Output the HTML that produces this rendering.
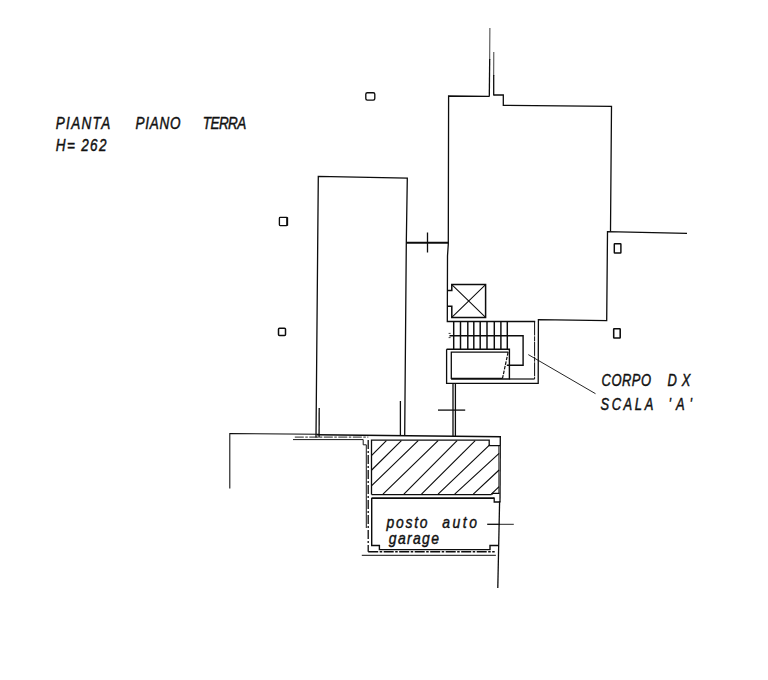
<!DOCTYPE html>
<html><head><meta charset="utf-8">
<style>
html,body{margin:0;padding:0;background:#fff;}
body{width:768px;height:680px;overflow:hidden;}
svg{display:block;}
text{font-family:"Liberation Sans",sans-serif;font-style:italic;fill:#111;}
</style></head><body>
<svg width="768" height="680" viewBox="0 0 768 680">
<rect width="768" height="680" fill="#fff"/>
<g fill="none" stroke="#0c0c0c" stroke-width="1.3" stroke-linecap="butt" stroke-linejoin="miter">
<!-- top antenna lines -->
<path d="M489.9 28 L489.7 60" stroke-width="0.8"/><path d="M489.7 59 L489.3 96.7"/>
<path d="M493.8 52 L493.7 76" stroke-width="0.8"/><path d="M493.7 75 L493.7 95.6"/>
<!-- main building outline -->
<path d="M489 96.3 L448.6 96 L448.3 244 L447.5 256 L447.3 321.5 L535.2 321.5"/>
<path d="M493.7 95 L503.3 95 L503.3 105.4 L611.5 106.4 L610.5 231.6"/>
<path d="M687 233.4 L607.5 231.7 L606.7 320.6 L538.4 319.6 L538.2 383.4 L446.6 383.4 L446.6 349.3"/>
<!-- left rectangle -->
<path d="M316 437.6 L318.3 176.4 L407.3 178.2 L406.3 243 L404.7 435.5"/>
<path d="M319.2 408 L319.1 437.6"/>
<path d="M400.4 401 L400.4 436"/>
<!-- connector -->
<path d="M406.2 242.7 L448.6 242.7" stroke-width="1.9"/>
<path d="M427.5 232.5 L427.5 252.5"/>
<!-- elevator -->
<path d="M447.3 290.4 H451.8 V284.6 H485.6 V317.4 H451.8 V306.3 H447.3" stroke-width="1.5"/>
<path d="M451.8 284.6 L485.6 317.4 M485.6 284.6 L451.8 317.4" stroke-width="1.05"/>
<!-- stairs -->
<path d="M453.7 321.5 V348.9 M460.5 321.5 V348.9 M467.8 321.5 V348.9 M473.8 321.5 V348.9 M480.2 321.5 V348.9 M487 321.5 V348.9 M494.3 321.5 V348.9 M500.9 321.5 V348.9 M507.3 321.5 V348.9" stroke-width="1.45"/>
<path d="M449.5 335.8 H523.1 V365.3 H506.8" stroke-width="1.4"/>
<path d="M448.6 333.4 H450.6 M448.6 337.6 H450.6" stroke-width="0.8"/>
<path d="M534.6 321.5 V379" stroke-width="1" stroke-dasharray="14 0.8 5 0.6"/>
<path d="M534.6 379 H509.4" stroke-width="1.2"/>
<path d="M446.6 349.2 H509.4 V379 H451.1" stroke-width="1.4"/>
<path d="M502.5 378.4 H451.3 V352.2 H508.1" stroke-width="1.3"/>
<path d="M508.1 352.2 L502.5 378.4" stroke-width="1.2" stroke-dasharray="3.5 1.2"/>
<!-- below stairs -->
<path d="M453 383.4 V436 M455.4 383.4 V436"/>
<path d="M438 410.1 H465.2"/>
<!-- leader -->
<path d="M528.3 354.6 L595.5 393.7" stroke-width="0.9"/>
<!-- small boxes -->
<rect x="365.8" y="92.7" width="9" height="7.4" rx="1.5" stroke-width="1.35"/>
<rect x="279.4" y="217.4" width="7.9" height="8.2" rx="0.8" stroke-width="1.35"/>
<path d="M287.2 217.4 V225.6" stroke-width="1.9"/>
<rect x="278.5" y="328.3" width="7.0" height="7.2" rx="1" stroke-width="1.5"/>
<rect x="614.3" y="243.7" width="6.6" height="9.4" rx="0.5" stroke-width="1.45"/>
<rect x="613.7" y="328.7" width="6.5" height="9.3" rx="0.5" stroke-width="1.55"/>
<!-- left ground line -->
<path d="M229.8 488.5 L229.8 433.5 L319 434.3" stroke-width="1.05"/>
<path d="M317 434.7 L501 436.7" stroke-width="1.6"/>
<path d="M500.3 436 L500 502.5"/>
<path d="M498.7 445.5 V494" stroke-width="0.7"/>
<path d="M294.8 437.1 H368.3" stroke-width="0.9" stroke-dasharray="9 1.5 2.5 1.5"/>
<path d="M293 439.6 H363.2 V444.8 H366.3 V528" stroke-width="0.95"/>
<path d="M368.2 440 V551.8" stroke-dasharray="9 2 2 2"/><path d="M368.2 551.7 H494.7" stroke-width="1.4" stroke-dasharray="10 1.5 2.5 1.5"/>
<path d="M361.8 555.3 H495.9" stroke-width="1"/>
<!-- hatched box -->
<path d="M371.5 494.6 V440.2 H489.2 V445.6 H500"/>
<path d="M371.5 494.6 H491.5"/>
<path d="M371.5 498.2 H494.2" stroke-width="1.8"/>
<path d="M491.5 494.6 L493 493.4 H499.5 M494.2 497.6 V502 H499.8"/>
<g stroke-width="1.15" stroke-linecap="butt">
<path d="M371.7 455.4 L386.4 440.7 M371.7 470 L401.4 440.7 M371.7 485.7 L418.2 440.7 M383 494.1 L438.1 440.7 M403.9 494.1 L457.1 440.7 M421.5 494.1 L475.2 440.7 M438.1 494.1 L489.9 444.6 M454.7 494.1 L499.1 453.4 M473.3 494.1 L499.1 470 M491.3 494.1 L499.1 486.6"/>
</g>
<!-- garage room -->
<path d="M371.7 498 V545.5 H379.4 V549.6 H490 V545.5 H498.8" stroke-width="1.4"/>
<path d="M499.6 501 L497.8 588" stroke-width="1.3"/>
<path d="M487.2 524.3 H500"/><path d="M500 524.3 H513.8" stroke-width="0.9"/>
</g>
<g stroke="#111" stroke-width="0.45">
<text font-size="16.5" transform="translate(55.8,128.6) scale(0.82,1)" textLength="66.3" lengthAdjust="spacing">PIANTA</text>
<text font-size="16.5" transform="translate(135.4,128.6) scale(0.82,1)" textLength="54.9" lengthAdjust="spacing">PIANO</text>
<text font-size="16.5" transform="translate(202.8,128.6) scale(0.82,1)" textLength="53.0" lengthAdjust="spacing">TERRA</text>
<text font-size="16.5" transform="translate(55.8,150.7) scale(0.82,1)" textLength="61.8" lengthAdjust="spacing">H= 262</text>
<text font-size="15.8" transform="translate(601.5,385.6) scale(0.82,1)" textLength="60.5" lengthAdjust="spacing">CORPO</text>
<text font-size="15.8" transform="translate(667.5,385.6) scale(0.82,1)" textLength="27.8" lengthAdjust="spacing">DX</text>
<text font-size="15.8" transform="translate(600.4,409.9) scale(0.82,1)" textLength="64.5" lengthAdjust="spacing">SCALA</text>
<text font-size="15.8" transform="translate(668.4,409.9) scale(0.82,1)" textLength="28.9" lengthAdjust="spacing">'A'</text>
<text font-size="17" transform="translate(386.5,528) scale(0.82,1)" textLength="50.1" lengthAdjust="spacing">posto</text>
<text font-size="17" transform="translate(442.2,528) scale(0.82,1)" textLength="42.4" lengthAdjust="spacing">auto</text>
<text font-size="17" transform="translate(388.8,543.9) scale(0.82,1)" textLength="61.1" lengthAdjust="spacing">garage</text>
</g>
</svg>
</body></html>
